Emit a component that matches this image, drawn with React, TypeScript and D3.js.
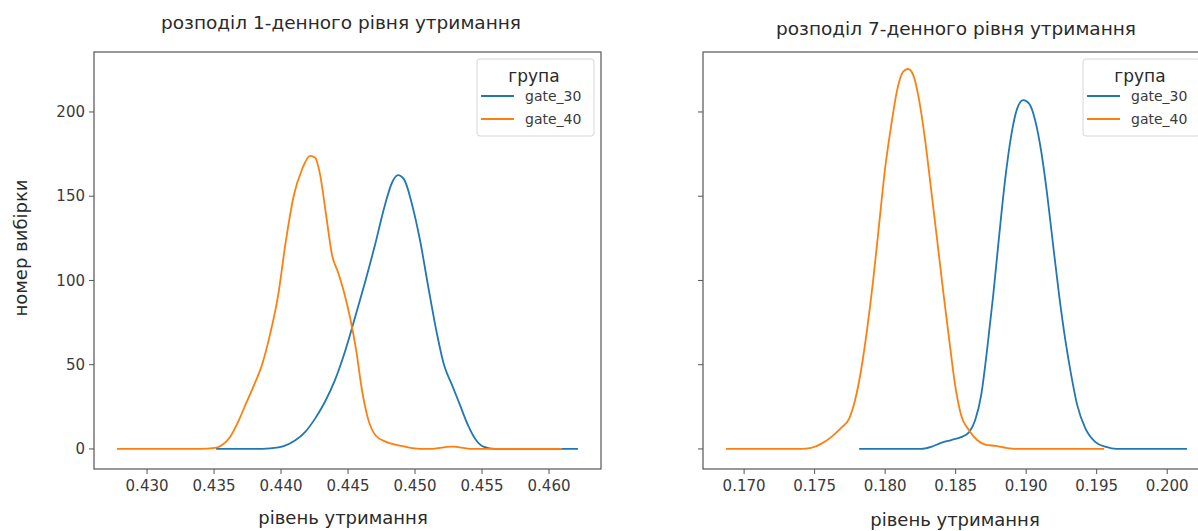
import React, { useRef, useEffect } from 'react';
import * as d3 from 'd3';

// groups and colours
const groups = ['gate_30', 'gate_40'];
const groupColours = ['#1f77b4', '#ff7f0e'];

// axis ticks
const yTicks = [0, 50, 100, 150, 200];
const xTicksDay1 = [0.43, 0.435, 0.44, 0.445, 0.45, 0.455, 0.46];
const xTicksDay7 = [0.17, 0.175, 0.18, 0.185, 0.19, 0.195, 0.2];

// KDE curves: [retention, density]
const day1Gate30: [number, number][] = [
  [0.43515, 0], [0.43769, 0], [0.43918, 0.4], [0.4403, 2], [0.44104, 5], [0.44179, 10],
  [0.44254, 18], [0.44328, 28], [0.44403, 41], [0.44478, 58], [0.44552, 78], [0.44627, 99],
  [0.44701, 121], [0.44776, 145], [0.44828, 158], [0.44873, 162.5], [0.44918, 160],
  [0.44978, 145], [0.45037, 124], [0.45097, 97], [0.45157, 71], [0.45216, 50], [0.45276, 38],
  [0.45336, 26], [0.45396, 14], [0.45455, 5.3], [0.45515, 1.2], [0.45597, 0], [0.46216, 0],
];
const day1Gate40: [number, number][] = [
  [0.42776, 0], [0.43396, 0], [0.43507, 0.6], [0.4356, 2.4], [0.43619, 7], [0.43679, 16],
  [0.43739, 27], [0.43799, 38], [0.43858, 50], [0.43918, 68], [0.43978, 91], [0.44037, 124],
  [0.44097, 151], [0.44157, 166], [0.44216, 174], [0.44254, 173], [0.44291, 163],
  [0.44336, 139], [0.44381, 115], [0.44425, 105], [0.4447, 93], [0.44515, 78], [0.4456, 59],
  [0.44604, 35], [0.44649, 18], [0.44709, 7.7], [0.44784, 4.2], [0.44888, 2], [0.44978, 0.5],
  [0.45097, 0], [0.45276, 1.4], [0.45440, 0], [0.46097, 0],
];
const day7Gate30: [number, number][] = [
  [0.17816, 0], [0.18255, 0], [0.18326, 1.2], [0.18397, 3.6], [0.18468, 5.3], [0.18539, 7],
  [0.18596, 10], [0.18638, 17], [0.18681, 32], [0.18723, 59], [0.18766, 91], [0.18809, 127],
  [0.18851, 160], [0.18894, 186], [0.18936, 202], [0.18979, 207], [0.19021, 205],
  [0.19064, 195], [0.19106, 177], [0.19149, 151], [0.19191, 121], [0.19234, 91], [0.19277, 65],
  [0.19319, 44], [0.19362, 26], [0.19418, 12.5], [0.19489, 4.2], [0.19567, 1.2], [0.19638, 0],
  [0.2014, 0],
];
const day7Gate40: [number, number][] = [
  [0.16872, 0], [0.17404, 0], [0.17475, 0.6], [0.17546, 3], [0.17617, 7], [0.17688, 12.5],
  [0.17745, 18], [0.17787, 29], [0.1783, 47], [0.17872, 71], [0.17915, 100], [0.17957, 133],
  [0.17999, 166], [0.18043, 192], [0.18085, 213], [0.18128, 224], [0.18163, 225.5],
  [0.18199, 222], [0.18241, 207], [0.18284, 183], [0.18326, 154], [0.18369, 124], [0.18411, 94],
  [0.18454, 65], [0.18496, 38], [0.18539, 20], [0.18596, 11], [0.18652, 5.3], [0.18716, 2.4],
  [0.18787, 1.8], [0.18858, 0.6], [0.18929, 0], [0.19553, 0],
];

const font = '"DejaVu Sans", sans-serif';

const App: React.FC = () => {
  const svgRef = useRef<SVGSVGElement | null>(null);

  useEffect(() => {
    if (!svgRef.current) return;
    const svg = d3.select(svgRef.current);
    svg.selectAll('*').remove();

    const top = 52;
    const bottom = 469;
    // shared y axis
    const y = d3.scaleLinear().domain([-11.9, 235.6]).range([bottom, top]);

    const panels = [
      {
        title: 'розподіл 1-денного рівня утримання', left: 94, right: 601,
        ticks: xTicksDay1, series: [day1Gate30, day1Gate40], yLabels: true,
        titleX: 341, titleY: 29, xLabelX: 343, xLabelY: 524, legendX: 477,
      },
      {
        title: 'розподіл 7-денного рівня утримання', left: 703, right: 1210,
        ticks: xTicksDay7, series: [day7Gate30, day7Gate40], yLabels: false,
        titleX: 956, titleY: 35, xLabelX: 955, xLabelY: 526, legendX: 1083,
      },
    ];

    panels.forEach(p => {
      const all = p.series.flat();
      const [lo, hi] = d3.extent(all, d => d[0]) as [number, number];
      const pad = (hi - lo) * 0.05; // matplotlib style margins
      const x = d3.scaleLinear().domain([lo - pad, hi + pad]).range([p.left, p.right]);

      const g = svg.append('g');

      // curves
      const line = d3.line<[number, number]>()
        .x(d => x(d[0]))
        .y(d => y(d[1]))
        .curve(d3.curveMonotoneX);
      p.series.forEach((s, i) => {
        g.append('path')
          .attr('d', line(s))
          .attr('fill', 'none')
          .attr('stroke', groupColours[i])
          .attr('stroke-width', 1.8);
      });

      // spines
      g.append('rect')
        .attr('x', p.left).attr('y', top)
        .attr('width', p.right - p.left).attr('height', bottom - top)
        .attr('fill', 'none').attr('stroke', '#555').attr('stroke-width', 1.2);

      // x ticks
      p.ticks.forEach(t => {
        g.append('line')
          .attr('x1', x(t)).attr('x2', x(t))
          .attr('y1', bottom).attr('y2', bottom + 5)
          .attr('stroke', '#555');
        g.append('text')
          .attr('x', x(t)).attr('y', bottom + 22)
          .attr('text-anchor', 'middle')
          .style('font-family', font).style('font-size', '15px').attr('fill', '#3a3a3a')
          .text(d3.format('.3f')(t));
      });

      // y ticks
      yTicks.forEach(t => {
        g.append('line')
          .attr('x1', p.left - 5).attr('x2', p.left)
          .attr('y1', y(t)).attr('y2', y(t))
          .attr('stroke', '#555');
        if (p.yLabels) {
          g.append('text')
            .attr('x', p.left - 9).attr('y', y(t)).attr('dy', '0.35em')
            .attr('text-anchor', 'end')
            .style('font-family', font).style('font-size', '15px').attr('fill', '#3a3a3a')
            .text(t);
        }
      });

      // title and x label
      g.append('text')
        .attr('x', p.titleX).attr('y', p.titleY)
        .attr('text-anchor', 'middle')
        .style('font-family', font).style('font-size', '18.5px').attr('fill', '#2a2a2a')
        .text(p.title);
      g.append('text')
        .attr('x', p.xLabelX).attr('y', p.xLabelY)
        .attr('text-anchor', 'middle')
        .style('font-family', font).style('font-size', '18px').attr('fill', '#2a2a2a')
        .text('рівень утримання');

      // legend
      const lg = g.append('g').attr('transform', `translate(${p.legendX},59)`);
      lg.append('rect')
        .attr('width', 117).attr('height', 77).attr('rx', 3)
        .attr('fill', 'white').attr('fill-opacity', 0.8)
        .attr('stroke', '#d6d6d6');
      lg.append('text')
        .attr('x', 57).attr('y', 23)
        .attr('text-anchor', 'middle')
        .style('font-family', font).style('font-size', '17px').attr('fill', '#2a2a2a')
        .text('група');
      groups.forEach((name, i) => {
        const ly = 37 + i * 23;
        lg.append('line')
          .attr('x1', 4).attr('x2', 37).attr('y1', ly).attr('y2', ly)
          .attr('stroke', groupColours[i]).attr('stroke-width', 1.8);
        lg.append('text')
          .attr('x', 48).attr('y', ly).attr('dy', '0.35em')
          .style('font-family', font).style('font-size', '14px').attr('fill', '#3a3a3a')
          .text(name);
      });
    });

    // shared y label
    svg.append('text')
      .attr('transform', 'translate(21,248) rotate(-90)')
      .attr('text-anchor', 'middle').attr('dy', '0.35em')
      .style('font-family', font).style('font-size', '18px').attr('fill', '#2a2a2a')
      .text('номер вибірки');
  }, []);

  return (
    <svg
      ref={svgRef}
      width={1198}
      height={531}
      style={{ position: 'absolute', left: 0, top: 0, background: '#fff' }}
    />
  );
};

export default App;
